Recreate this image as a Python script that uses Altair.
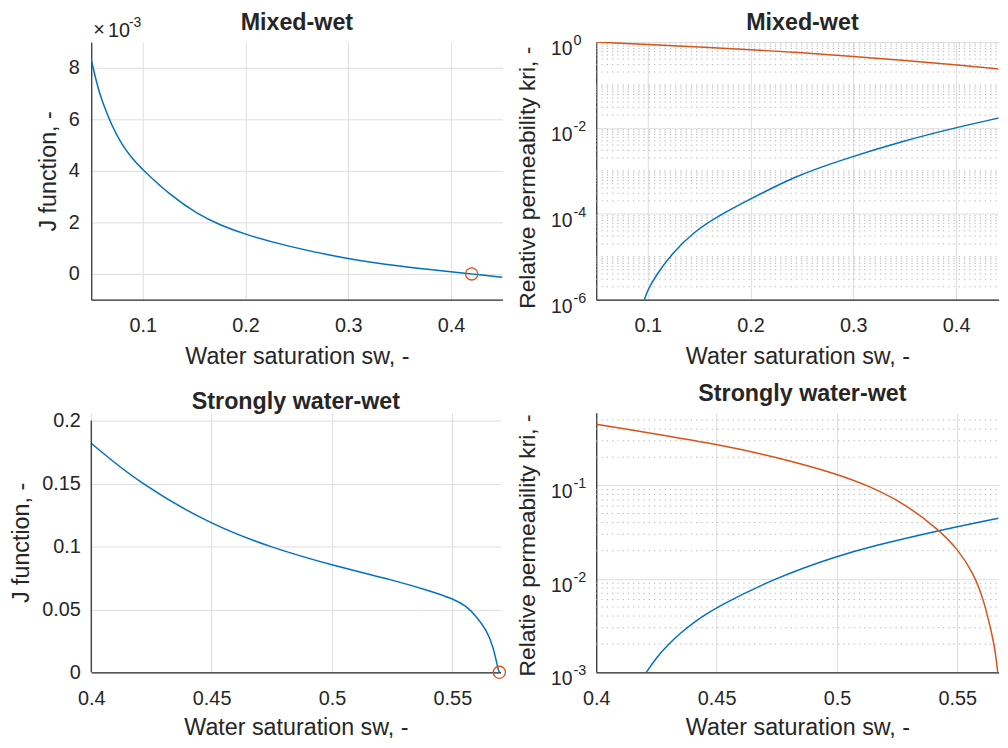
import altair as alt
import pandas as pd

FONT = "Liberation Sans"
TXT = "#262626"
BLUE = "#0072BD"
RED = "#D95319"
GRID = "#dedede"
MINOR = "#b5b5b5"

# ---------------- data ----------------
# Mixed-wet J function (values shown with axis multiplier x10^-3)
mw_sw = [0.05, 0.055, 0.06, 0.07, 0.08, 0.09, 0.10, 0.127, 0.153, 0.175,
         0.20, 0.24, 0.30, 0.35, 0.40, 0.42, 0.45]
mw_J = [8.32, 7.45, 6.75, 5.75, 5.00, 4.47, 4.04, 3.05, 2.33, 1.90,
        1.53, 1.08, 0.57, 0.30, 0.085, 0.0, -0.13]
mw_zero_sw = [0.42]
mw_zero_J = [0.0]

# Mixed-wet relative permeabilities
mw_krw_sw = [0.0968, 0.100, 0.1073, 0.1233, 0.1457, 0.1712, 0.20, 0.2415,
             0.289, 0.35, 0.40, 0.4413]
mw_krw = [1.0e-6, 1.66e-6, 3.47e-6, 1.17e-5, 3.98e-5, 9.66e-5, 2.2e-4, 7.24e-4,
          1.82e-3, 5.1e-3, 1.02e-2, 1.70e-2]
mw_kro_sw = [0.05, 0.10, 0.15, 0.20, 0.25, 0.30, 0.35, 0.40, 0.4413]
mw_kro = [1.0, 0.871, 0.767, 0.668, 0.562, 0.462, 0.372, 0.295, 0.235]

# Strongly water-wet J function
ww_sw = [0.40, 0.42, 0.45, 0.475, 0.50, 0.527, 0.541, 0.55, 0.556, 0.560,
         0.5642, 0.567, 0.569, 0.5695]
ww_J = [0.182, 0.150, 0.117, 0.099, 0.085, 0.0725, 0.0645, 0.0587, 0.0525, 0.0442,
        0.0336, 0.0204, 0.002, 0.0]
ww_zero_sw = [0.5695]
ww_zero_J = [0.0]

# Strongly water-wet relative permeabilities
ww_krw_sw = [0.4208, 0.425, 0.43, 0.435, 0.44, 0.45, 0.475, 0.50, 0.5144, 0.5425, 0.5671]
ww_krw = [0.001, 0.00144, 0.0020, 0.00263, 0.00336, 0.00501, 0.0104, 0.0175, 0.0223,
          0.0331, 0.0446]
ww_kro_sw = [0.40, 0.45, 0.475, 0.50, 0.5144, 0.5281, 0.5418, 0.55, 0.5568, 0.561,
             0.564, 0.5657, 0.5668]
ww_kro = [0.452, 0.278, 0.200, 0.133, 0.096, 0.0637, 0.0344, 0.0211, 0.0114, 0.00589,
          0.00282, 0.00174, 0.001]

# tick values / labels
x_ticks_mw = [0.1, 0.2, 0.3, 0.4]
x_ticks_ww = [0.4, 0.45, 0.5, 0.55]
y_ticks_mwJ = [0, 2, 4, 6, 8]
y_ticks_wwJ = [0, 0.05, 0.1, 0.15, 0.2]
tr_major = [1.0, 1e-2, 1e-4, 1e-6]
tr_exp = ["0", "-2", "-4", "-6"]
br_major = [1e-1, 1e-2, 1e-3]
br_exp = ["-1", "-2", "-3"]
tr_minor = [m * 10.0 ** k for k in range(-6, 0) for m in range(1, 10)
            if not (m == 1 and k % 2 == 0)]
br_minor = [m * 10.0 ** k for k in range(-3, 0) for m in range(2, 10)
            if m * 10.0 ** k <= 0.6]

XTITLE = "Water saturation sw, -"
KTITLE = "Relative permeability kri, -"

# ---------------- layout sizes ----------------
W_TL, H_T = 415, 260
W_R = 406
W_BL, H_B = 413, 262
H_BL_DATA = 254           # pixel height of 0 .. 0.2 in the bottom-left panel
TITLE_SIZE = 23.5
TITLE_ASC = 19            # distance from text top to its baseline


def xaxis(vals, tpad):
    return alt.Axis(values=vals, format="~g", title=XTITLE, grid=True,
                    labelPadding=16, titlePadding=tpad)


def line(df, color):
    return alt.Chart(df).mark_line(color=color, strokeWidth=1.5,
                                   interpolate="basis", clip=True)


def panel_title(text, xpos, base_y):
    return alt.Chart(pd.DataFrame({"t": [text]})).mark_text(
        align="center", baseline="top", font=FONT, fontSize=TITLE_SIZE,
        fontWeight="bold", color=TXT
    ).encode(x=alt.value(xpos), y=alt.value(base_y - TITLE_ASC), text="t:N")


# ---------------- top-left ----------------
tl_x = alt.Scale(domain=[0.05, 0.45], nice=False, zero=False)
tl_y = alt.Scale(domain=[-1, 9], nice=False, zero=False)
tl_df = pd.DataFrame({"sw": mw_sw, "J": mw_J})
tl_line = line(tl_df, BLUE).encode(
    x=alt.X("sw:Q", scale=tl_x, axis=xaxis(x_ticks_mw, 9)),
    y=alt.Y("J:Q", scale=tl_y,
            axis=alt.Axis(values=y_ticks_mwJ, format="~g", title="J function, -",
                          grid=True, labelPadding=12, titlePadding=8)),
)
tl_pt = alt.Chart(pd.DataFrame({"sw": mw_zero_sw, "J": mw_zero_J})).mark_point(
    shape="circle", filled=False, color=RED, size=150, strokeWidth=1.3, opacity=1
).encode(x=alt.X("sw:Q", scale=tl_x), y=alt.Y("J:Q", scale=tl_y))
mult_df = pd.DataFrame({"a": ["×"], "b": ["10"], "c": ["-3"]})
tl_m1 = alt.Chart(mult_df).mark_text(align="left", baseline="alphabetic", font=FONT,
                                     fontSize=20, color=TXT).encode(
    x=alt.value(2), y=alt.value(-6), text="a:N")
tl_m2 = alt.Chart(mult_df).mark_text(align="left", baseline="alphabetic", font=FONT,
                                     fontSize=20, color=TXT).encode(
    x=alt.value(17), y=alt.value(-5), text="b:N")
tl_m3 = alt.Chart(mult_df).mark_text(align="left", baseline="alphabetic", font=FONT,
                                     fontSize=14, color=TXT).encode(
    x=alt.value(38), y=alt.value(-15), text="c:N")
TL = alt.layer(tl_line, tl_pt, tl_m1, tl_m2, tl_m3,
               panel_title("Mixed-wet", W_TL / 2, -12)).properties(width=W_TL, height=H_T)


# ---------------- log panels ----------------
def log_panel(xdom, ydom, xticks, major, exps, minor, blue_sw, blue_v, red_sw, red_v,
              title, width, height, tpad, ytitle_y):
    xs = alt.Scale(domain=xdom, nice=False, zero=False)
    ys = alt.Scale(type="log", domain=ydom, nice=False)
    minor_l = alt.Chart(pd.DataFrame({"m": minor})).mark_rule(
        color=MINOR, strokeWidth=1, strokeDash=[1.3, 4]
    ).encode(x=alt.value(0), x2=alt.value(width),
             y=alt.Y("m:Q", scale=ys,
                     axis=alt.Axis(values=major, labels=False, grid=True, title=None)))
    blue = line(pd.DataFrame({"sw": blue_sw, "k": blue_v}), BLUE).encode(
        x=alt.X("sw:Q", scale=xs, axis=xaxis(xticks, tpad)),
        y=alt.Y("k:Q", scale=ys))
    red = line(pd.DataFrame({"sw": red_sw, "k": red_v}), RED).encode(
        x=alt.X("sw:Q", scale=xs), y=alt.Y("k:Q", scale=ys))
    tick_df = pd.DataFrame({"v": major, "e": exps, "b": ["10"] * len(major)})
    base_t = alt.Chart(tick_df).mark_text(align="right", baseline="alphabetic",
                                          dy=13, font=FONT, fontSize=19.5,
                                          color=TXT).encode(
        x=alt.value(-24), y=alt.Y("v:Q", scale=ys), text="b:N")
    exp_t = alt.Chart(tick_df).mark_text(align="left", baseline="alphabetic",
                                         dy=3, font=FONT, fontSize=14.5,
                                         color=TXT).encode(
        x=alt.value(-23), y=alt.Y("v:Q", scale=ys), text="e:N")
    ytitle = alt.Chart(pd.DataFrame({"t": [KTITLE]})).mark_text(
        align="center", baseline="bottom", angle=270, font=FONT, fontSize=23,
        color=TXT
    ).encode(x=alt.value(-57), y=alt.value(ytitle_y), text="t:N")
    return alt.layer(minor_l, blue, red, base_t, exp_t, ytitle,
                     panel_title(title, 208, -12)).properties(width=width, height=height)


TR = log_panel([0.05, 0.05 + W_R / 1037.5], [1e-6, 1.0], x_ticks_mw, tr_major, tr_exp,
               tr_minor, mw_krw_sw, mw_krw, mw_kro_sw, mw_kro, "Mixed-wet", W_R, H_T, 9,
               H_T / 2 + 7)
BR = log_panel([0.4, 0.4 + W_R / 2429.0], [1e-3, 0.6], x_ticks_ww, br_major, br_exp,
               br_minor, ww_krw_sw, ww_krw, ww_kro_sw, ww_kro, "Strongly water-wet",
               W_R, H_B, 8, H_B / 2 + 3)

# ---------------- bottom-left ----------------
bl_x = alt.Scale(domain=[0.4, 0.57], nice=False, zero=False)
bl_y = alt.Scale(domain=[0, 0.2 * H_B / H_BL_DATA], nice=False, zero=False)
bl_df = pd.DataFrame({"sw": ww_sw, "J": ww_J})
bl_line = line(bl_df, BLUE).encode(
    x=alt.X("sw:Q", scale=bl_x, axis=xaxis(x_ticks_ww, 8)),
    y=alt.Y("J:Q", scale=bl_y,
            axis=alt.Axis(values=y_ticks_wwJ, format="~g", title="J function, -",
                          grid=True, domain=False, labelPadding=11, titlePadding=8)),
)
bl_dom = alt.Chart(pd.DataFrame({"a": [y_ticks_wwJ[0]], "b": [y_ticks_wwJ[-1]]})).mark_rule(
    color=TXT, strokeWidth=1.2).encode(
    x=alt.value(0), y=alt.Y("a:Q", scale=bl_y), y2="b:Q")
bl_pt = alt.Chart(pd.DataFrame({"sw": ww_zero_sw, "J": ww_zero_J})).mark_point(
    shape="circle", filled=False, color=RED, size=150, strokeWidth=1.3, opacity=1
).encode(x=alt.X("sw:Q", scale=bl_x), y=alt.Y("J:Q", scale=bl_y))
BL = alt.layer(bl_line, bl_dom, bl_pt,
               panel_title("Strongly water-wet", W_BL / 2, H_B - H_BL_DATA - 11.5)).properties(
    width=W_BL, height=H_B)

chart = alt.concat(TL, TR, BL, BR, columns=2, bounds="flush",
                   spacing={"row": 114, "column": 94.6}).properties(
    padding={"left": 2, "top": 0, "right": 0, "bottom": 0},
    background="white",
).configure_axis(
    labelFont=FONT, labelFontSize=20, labelColor=TXT,
    titleFont=FONT, titleFontSize=TITLE_SIZE, titleFontWeight="normal", titleColor=TXT,
    domainColor=TXT, domainWidth=1.2, gridColor=GRID, gridWidth=1,
    ticks=False, tickSize=0, labelFlush=False, labelOverlap=False, labelBound=False,
).configure_view(strokeWidth=0)

chart.save("out.html", embed_options={"renderer": "svg", "actions": False})
